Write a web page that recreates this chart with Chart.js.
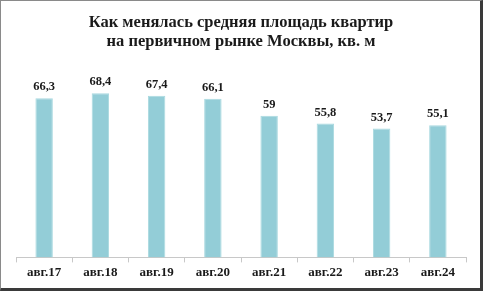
<!DOCTYPE html>
<html>
<head>
<meta charset="utf-8">
<script src="https://cdn.jsdelivr.net/npm/chart.js@4/dist/chart.umd.min.js"></script>
<style>
    html, body { margin: 0; padding: 0; background: #fff; }
    #wrap { position: relative; width: 483px; height: 291px; }
    #areaChart { position: absolute; left: 0; top: 0; }
    #frame {
        position: absolute; left: 0; top: 0; width: 483px; height: 291px;
        box-sizing: border-box; pointer-events: none;
        border-left: 1px solid #8a8a8a; border-top: 1px solid #8a8a8a;
        border-right: 3px solid #3a3a3a; border-bottom: 3px solid #3a3a3a;
    }
</style>
</head>
<body>
<div id="wrap">
    <canvas id="areaChart" width="483" height="291"></canvas>
    <div id="frame"></div>
</div>
<script>
var aMois = ["авг.17", "авг.18", "авг.19", "авг.20", "авг.21", "авг.22", "авг.23", "авг.24"];
var aSurface = [66.3, 68.4, 67.4, 66.1, 59, 55.8, 53.7, 55.1];
var aTitre = ["Как менялась средняя площадь квартир", "на первичном рынке Москвы, кв. м"];

// etiquettes au-dessus des barres (pas de plugin datalabels disponible)
var pluginValeurs = {
    id: 'valeurs',
    afterDatasetsDraw: function (chart) {
        var ctx = chart.ctx;
        var meta = chart.getDatasetMeta(0);
        ctx.save();
        ctx.font = 'bold 12.5px "Liberation Serif", "Times New Roman", serif';
        ctx.fillStyle = '#1a1a1a';
        ctx.textAlign = 'center';
        ctx.textBaseline = 'alphabetic';
        meta.data.forEach(function (bar, i) {
            var sTexte = String(aSurface[i]).replace('.', ',');
            ctx.fillText(sTexte, bar.x, bar.y - 8);
        });
        ctx.restore();
    }
};

var oChart = new Chart(document.getElementById('areaChart'), {
    type: 'bar',
    data: {
        labels: aMois,
        datasets: [{
            data: aSurface,
            backgroundColor: '#93cdd7',
            borderColor: '#a9d9e0',
            borderWidth: 1,
            categoryPercentage: 1,
            barPercentage: 0.31
        }]
    },
    options: {
        responsive: false,
        animation: false,
        layout: { padding: { left: 16, right: 17, top: 13, bottom: 9 } },
        plugins: {
            legend: { display: false },
            tooltip: { enabled: false },
            title: {
                display: true,
                text: aTitre,
                color: '#1a1a1a',
                font: { family: '"Liberation Serif", "Times New Roman", serif', size: 16.5, weight: 'bold', lineHeight: 1.15 },
                padding: { top: 0, bottom: 14.5 }
            }
        },
        scales: {
            x: {
                offset: true,
                grid: { display: true, offset: true, drawOnChartArea: false, drawTicks: true, tickLength: 5, color: '#c8c8c8' },
                border: { display: true, color: '#c8c8c8', width: 1 },
                ticks: {
                    color: '#1a1a1a',
                    padding: 2,
                    font: { family: '"Liberation Serif", "Times New Roman", serif', size: 13, weight: 'bold' }
                }
            },
            y: {
                display: false,
                min: 0,
                max: 80
            }
        }
    },
    plugins: [pluginValeurs]
});
</script>
</body>
</html>
